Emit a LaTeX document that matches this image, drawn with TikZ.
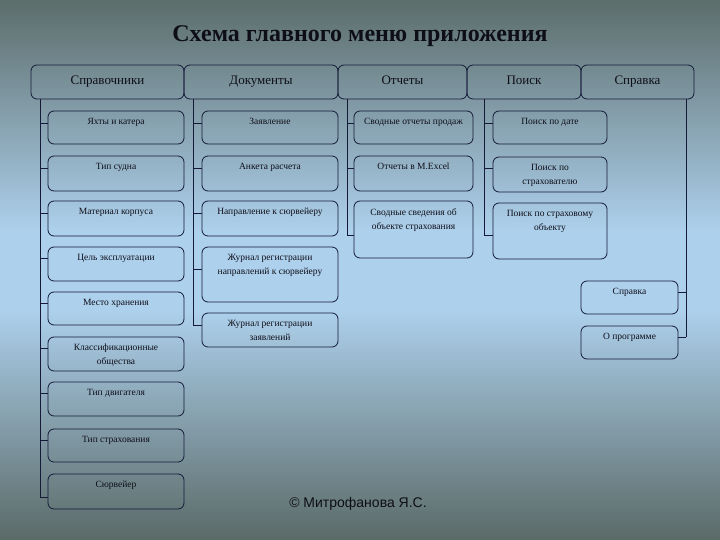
\documentclass[tikz,border=0pt]{standalone}
\usepackage{fontspec}
\setmainfont{Liberation Serif}
\newfontfamily\sansf{Liberation Sans}
\definecolor{bgtop}{HTML}{5C6D6B}
\definecolor{bgmid}{HTML}{ADD0EC}
\definecolor{bgbot}{HTML}{5A6A67}
\definecolor{bordc}{HTML}{141A38}
\definecolor{txtc}{HTML}{0E0E18}
\newcommand\mybox[6]{%
  \node[bx, anchor=north west, minimum width={(#4-#2)*1pt}, minimum height={(#5-#3)*1pt}] (#1) at (#2,#3) {};
  \node[subtxt, anchor=north] (#1t) at ([yshift=-7pt]#1.north) {#6};
}
\newcommand\tickw[3]{%
  \coordinate (#3j) at (#1,#2);
  \draw[conn] (#3j) -- (#3j -| #3.west);
}
\newcommand\ticke[3]{%
  \coordinate (#3j) at (#1,#2);
  \draw[conn] (#3j) -- (#3j -| #3.east);
}
\begin{document}
\begin{tikzpicture}[x=1pt,y=-1pt,
  bx/.style={draw=bordc, line width=0.8pt, rounded corners=6pt, inner sep=0pt, outer sep=0pt},
  topbx/.style={bx, anchor=north west, minimum height=34pt, text=txtc, text height=10pt, text depth=4pt, font=\fontsize{13}{15}\selectfont},
  subtxt/.style={font=\fontsize{9.5}{14}\selectfont, align=center, inner sep=0pt, text=txtc},
  conn/.style={draw=bordc, line width=0.9pt}]
\useasboundingbox (0,0) rectangle (720,540);
\shade[top color=bgtop, bottom color=bgmid] (0,0) rectangle (720,231);
\fill[bgmid] (0,230) rectangle (720,311);
\shade[top color=bgmid, bottom color=bgbot] (0,310) rectangle (720,540);

\node[font=\fontsize{24}{28}\selectfont\bfseries, text=txtc] (title) at (360,36) {Схема главного меню приложения};

% top menu
\node[topbx, minimum width=153pt] (t1) at (31,65) {Справочники};
\node[topbx, minimum width=154pt] (t2) at (184,65) {Документы};
\node[topbx, minimum width=129pt] (t3) at (338,65) {Отчеты};
\node[topbx, minimum width=114pt] (t4) at (467,65) {Поиск};
\node[topbx, minimum width=113pt] (t5) at (581,65) {Справка};

% column 1
\mybox{s11}{48}{111}{184}{144}{Яхты и катера}
\mybox{s12}{48}{156}{184}{191}{Тип судна}
\mybox{s13}{48}{201}{184}{236}{Материал корпуса}
\mybox{s14}{48}{247}{184}{281}{Цель эксплуатации}
\mybox{s15}{48}{292}{184}{325}{Место хранения}
\mybox{s16}{48}{337}{184}{371}{Классификационные\\общества}
\mybox{s17}{48}{382}{184}{416}{Тип двигателя}
\mybox{s18}{48}{429}{184}{462}{Тип страхования}
\mybox{s19}{48}{474}{184}{509}{Сюрвейер}

% column 2
\mybox{s21}{202}{111}{338}{144}{Заявление}
\mybox{s22}{202}{156}{338}{191}{Анкета расчета}
\mybox{s23}{202}{201}{338}{236}{Направление к сюрвейеру}
\mybox{s24}{202}{247}{338}{302}{Журнал регистрации\\направлений к сюрвейеру}
\mybox{s25}{202}{313}{338}{347}{Журнал регистрации\\заявлений}

% column 3
\mybox{s31}{354}{111}{473}{144}{Сводные отчеты продаж}
\mybox{s32}{354}{156}{473}{191}{Отчеты в M.Excel}
\mybox{s33}{354}{201}{473}{258}{Сводные сведения об\\объекте страхования}

% column 4
\mybox{s41}{493}{111}{607}{144}{Поиск по дате}
\mybox{s42}{493}{157}{607}{192}{Поиск по\\страхователю}
\mybox{s43}{493}{203}{607}{259}{Поиск по страховому\\объекту}

% column 5
\mybox{s51}{581}{281}{678}{314}{Справка}
\mybox{s52}{581}{326}{678}{359}{О программе}

% connectors column 1
\coordinate (sp1) at (40,99);
\tickw{40}{123}{s11}
\tickw{40}{168}{s12}
\tickw{40}{213}{s13}
\tickw{40}{258}{s14}
\tickw{40}{303}{s15}
\tickw{40}{348}{s16}
\tickw{40}{393}{s17}
\tickw{40}{440}{s18}
\tickw{40}{497}{s19}
\draw[conn] (sp1) -- (s19j);

% column 2
\coordinate (sp2) at (193,99);
\tickw{193}{123}{s21}
\tickw{193}{168}{s22}
\tickw{193}{213}{s23}
\tickw{193}{269}{s24}
\tickw{193}{325}{s25}
\draw[conn] (sp2) -- (s25j);

% column 3
\coordinate (sp3) at (347,99);
\tickw{347}{123}{s31}
\tickw{347}{168}{s32}
\tickw{347}{235}{s33}
\draw[conn] (sp3) -- (s33j);

% column 4
\coordinate (sp4) at (484,99);
\tickw{484}{123}{s41}
\tickw{484}{168}{s42}
\tickw{484}{235}{s43}
\draw[conn] (sp4) -- (s43j);

% column 5
\coordinate (sp5) at (686,99);
\ticke{686}{292}{s51}
\ticke{686}{337}{s52}
\draw[conn] (sp5) -- (s52j);

\node[font=\sansf\fontsize{14}{16}\selectfont, text=txtc] (copy) at (358,504) {© Митрофанова Я.С.};
\end{tikzpicture}
\end{document}
